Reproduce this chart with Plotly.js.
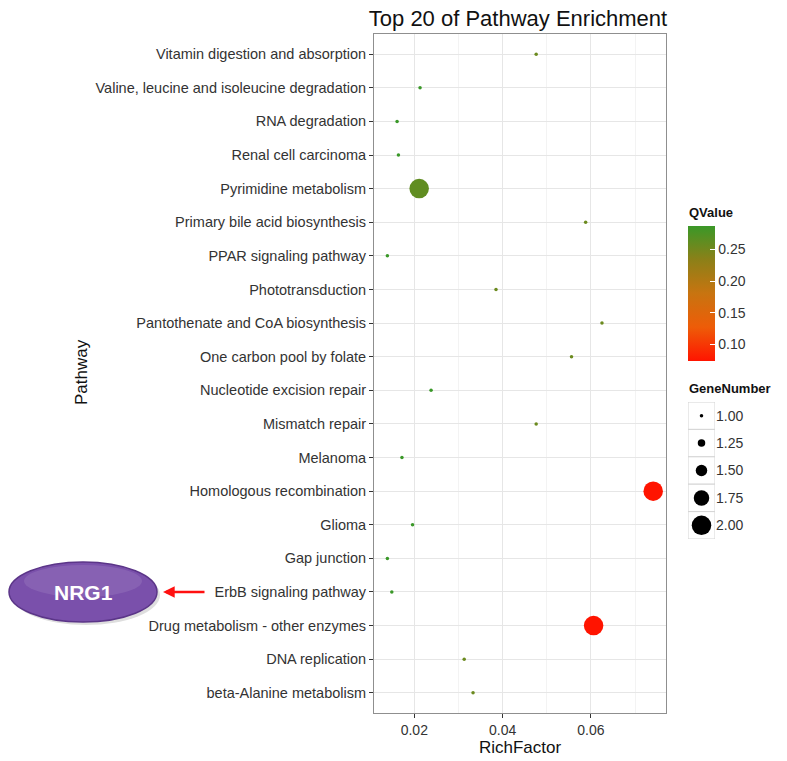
<!DOCTYPE html>
<html>
<head>
<meta charset="utf-8">
<script src="https://cdn.plot.ly/plotly-3.0.1.min.js"></script>
<style>html,body{margin:0;padding:0;background:#fff;}#chart{width:787px;height:761px;}</style>
</head>
<body>
<div id="chart"></div>
<script>
// ---- data (top to bottom) ----
const categories = [
  "Vitamin digestion and absorption",
  "Valine, leucine and isoleucine degradation",
  "RNA degradation",
  "Renal cell carcinoma",
  "Pyrimidine metabolism",
  "Primary bile acid biosynthesis",
  "PPAR signaling pathway",
  "Phototransduction",
  "Pantothenate and CoA biosynthesis",
  "One carbon pool by folate",
  "Nucleotide excision repair",
  "Mismatch repair",
  "Melanoma",
  "Homologous recombination",
  "Glioma",
  "Gap junction",
  "ErbB signaling pathway",
  "Drug metabolism - other enzymes",
  "DNA replication",
  "beta-Alanine metabolism"
];
const richFactor = [0.0476, 0.0213, 0.0161, 0.0164, 0.0211, 0.0588, 0.0139, 0.0385, 0.0625, 0.0556,
                    0.0238, 0.0476, 0.0172, 0.0741, 0.0196, 0.0139, 0.0149, 0.0606, 0.0313, 0.0333];
const qValue = [0.255, 0.287, 0.287, 0.287, 0.262, 0.255, 0.287, 0.255, 0.255, 0.255,
                0.287, 0.255, 0.287, 0.0741, 0.287, 0.287, 0.287, 0.0741, 0.255, 0.255];
const geneNumber = [1, 1, 1, 1, 2, 1, 1, 1, 1, 1, 1, 1, 1, 2, 1, 1, 1, 2, 1, 1];
const xTicks = [0.02, 0.04, 0.06];
const qTicks = [0.10, 0.15, 0.20, 0.25];
const qTickText = ["0.10", "0.15", "0.20", "0.25"];
const sizeLegendValues = [1.00, 1.25, 1.50, 1.75, 2.00];
const sizeLegendText = ["1.00", "1.25", "1.50", "1.75", "2.00"];

// ---- scales ----
const qMin = 0.0741, qMax = 0.2868;
const gMin = 1, gMax = 2;
function sizeScale(v) { return 3.5 + (v - gMin) / (gMax - gMin) * 16; }
const colorscale = [
  [0.00, "rgb(255,20,0)"],
  [0.25, "rgb(238,92,8)"],
  [0.50, "rgb(200,116,16)"],
  [0.75, "rgb(140,128,24)"],
  [1.00, "rgb(58,152,40)"]
];

// ---- layout geometry helpers (pixel -> paper) ----
const W = 787, H = 761, ML = 374, MR = 8, MT = 34, MB = 48;
const PW = W - ML - MR, PH = H - MT - MB;
const px = v => (v - ML) / PW;
const py = v => (H - MB - v) / PH;

const FONT = "Liberation Sans, Arial, sans-serif";
const TXT = "#333333";

const mainTrace = {
  type: "scatter", mode: "markers",
  x: richFactor, y: categories,
  xaxis: "x", yaxis: "y",
  marker: {
    size: geneNumber.map(sizeScale),
    color: qValue, cmin: qMin, cmax: qMax, colorscale: colorscale,
    line: {width: 0}, opacity: 1,
    showscale: true,
    colorbar: {
      xref: "paper", yref: "paper",
      x: px(688), xanchor: "left", y: py(361), yanchor: "bottom",
      len: 135, lenmode: "pixels", thickness: 27, thicknessmode: "pixels",
      outlinewidth: 0, xpad: 0, ypad: 0,
      ticks: "inside", ticklen: 5, tickcolor: "white", tickwidth: 1,
      tickvals: qTicks, ticktext: qTickText,
      tickfont: {family: FONT, size: 14, color: TXT},
      title: {text: ""}
    }
  },
  showlegend: false, hoverinfo: "x+y"
};

const sizeLegendTrace = {
  type: "scatter", mode: "markers",
  x: sizeLegendValues.map(() => 0.5), y: sizeLegendValues,
  xaxis: "x2", yaxis: "y2",
  marker: {size: sizeLegendValues.map(sizeScale), color: "black", opacity: 1, line: {width: 0}},
  showlegend: false, hoverinfo: "skip"
};

const shapes = sizeLegendValues.map(v => ({
  type: "rect", xref: "x2", yref: "y2", x0: 0, x1: 1, y0: v - 0.125, y1: v + 0.125,
  line: {color: "#d4d4d4", width: 1}, fillcolor: "white", layer: "below"
}));

// NRG1 badge (decoration)
shapes.push({type: "circle", xref: "paper", yref: "paper",
  x0: px(12), x1: px(160), y0: py(625), y1: py(565),
  line: {width: 0}, fillcolor: "rgba(0,0,0,0.13)", layer: "above"});
shapes.push({type: "circle", xref: "paper", yref: "paper",
  x0: px(9), x1: px(157), y0: py(622), y1: py(562),
  line: {color: "#5b3588", width: 1.5}, fillcolor: "#7a50ab", layer: "above"});
shapes.push({type: "circle", xref: "paper", yref: "paper",
  x0: px(24), x1: px(142), y0: py(597), y1: py(565),
  line: {width: 0}, fillcolor: "rgba(255,255,255,0.10)", layer: "above"});

const annotations = [
  {text: "Pathway", xref: "paper", yref: "paper", x: px(81), y: py(372),
   textangle: -90, showarrow: false, xanchor: "center", yanchor: "middle",
   font: {family: FONT, size: 17, color: "#111"}},
  {text: "<b>QValue</b>", xref: "paper", yref: "paper", x: px(687), y: py(213),
   showarrow: false, xanchor: "left", yanchor: "middle",
   font: {family: FONT, size: 13, color: "#111"}},
  {text: "<b>GeneNumber</b>", xref: "paper", yref: "paper", x: px(687), y: py(389),
   showarrow: false, xanchor: "left", yanchor: "middle",
   font: {family: FONT, size: 13, color: "#111"}},
  {text: "<b>NRG1</b>", xref: "paper", yref: "paper", x: px(83), y: py(592),
   showarrow: false, xanchor: "center", yanchor: "middle",
   font: {family: FONT, size: 21, color: "white"}},
  {text: "", xref: "paper", yref: "paper", x: px(163), y: py(592),
   showarrow: true, ax: 43, ay: 0, arrowcolor: "#ff1010", arrowwidth: 2.6,
   arrowhead: 2, arrowsize: 0.9}
];

const layout = {
  width: W, height: H,
  margin: {l: ML, r: MR, t: MT, b: MB, autoexpand: false},
  paper_bgcolor: "white", plot_bgcolor: "white",
  font: {family: FONT, color: TXT},
  title: {text: "Top 20 of Pathway Enrichment", xref: "container", yref: "container",
          x: 518 / W, xanchor: "center", y: 1 - 18 / H, yanchor: "middle",
          font: {family: FONT, size: 22, color: "#111"}},
  xaxis: {
    domain: [0, 292 / PW], anchor: "y",
    range: [0.01087, 0.0770], tickvals: xTicks, tickformat: ".2f",
    showgrid: true, gridcolor: "#e6e6e6", gridwidth: 1,
    minor: {tickvals: [0.03, 0.05, 0.07], showgrid: true, gridcolor: "#f3f3f3", ticks: ""},
    ticks: "outside", ticklen: 4, tickcolor: "#333",
    showline: true, mirror: true, linecolor: "#8f8f8f", linewidth: 1, zeroline: false,
    tickfont: {family: FONT, size: 14, color: TXT},
    title: {text: "RichFactor", standoff: 4, font: {family: FONT, size: 17, color: "#111"}}
  },
  yaxis: {
    domain: [0, 1], anchor: "x",
    type: "category", categoryorder: "array", categoryarray: categories,
    range: [19.6, -0.6],
    showgrid: true, gridcolor: "#e6e6e6", gridwidth: 1,
    ticks: "outside", ticklen: 4, tickcolor: "#333",
    showline: true, mirror: true, linecolor: "#8f8f8f", linewidth: 1, zeroline: false,
    tickfont: {family: FONT, size: 14.5, color: TXT}
  },
  xaxis2: {domain: [px(688), px(715)], anchor: "y2", range: [0, 1], visible: false, fixedrange: true},
  yaxis2: {domain: [py(539), py(402)], anchor: "x2", side: "right", range: [2.125, 0.875],
           tickvals: sizeLegendValues, ticktext: sizeLegendText, showgrid: false, zeroline: false,
           showline: false, ticks: "", fixedrange: true,
           tickfont: {family: FONT, size: 14, color: TXT}},
  shapes: shapes,
  annotations: annotations,
  showlegend: false
};

Plotly.newPlot("chart", [mainTrace, sizeLegendTrace], layout, {displayModeBar: false, staticPlot: true});
</script>
</body>
</html>
